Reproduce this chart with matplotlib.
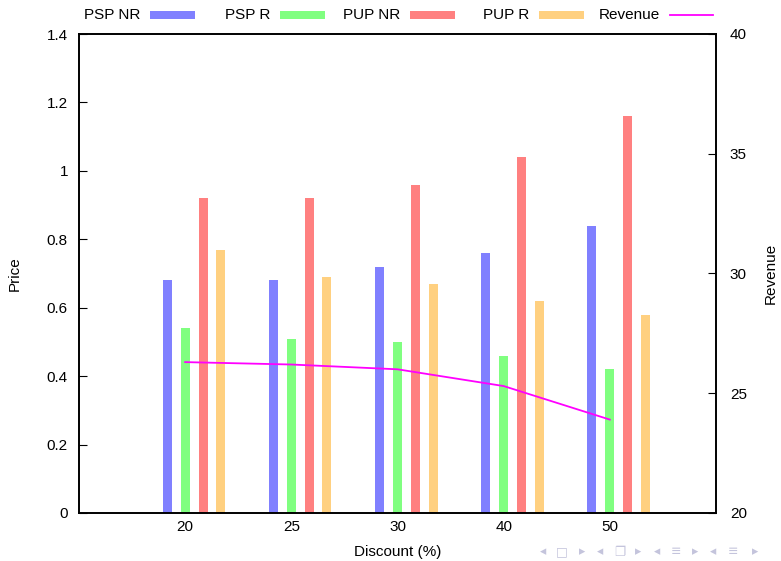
import matplotlib
matplotlib.use("Agg")
import matplotlib.pyplot as plt
from matplotlib.patches import Rectangle
from matplotlib.lines import Line2D
import numpy as np

plt.rcParams['font.family'] = ['Liberation Sans', 'DejaVu Sans']

categories = ["20", "25", "30", "40", "50"]
psp_nr = [0.68, 0.68, 0.72, 0.76, 0.84]
psp_r = [0.54, 0.51, 0.50, 0.46, 0.42]
pup_nr = [0.92, 0.92, 0.96, 1.04, 1.16]
pup_r = [0.77, 0.69, 0.67, 0.62, 0.58]
revenue = [26.3, 26.2, 26.0, 25.3, 23.9]

series = [("PSP NR", psp_nr, "#8080ff", -0.17),
          ("PSP R", psp_r, "#80ff80", 0.0),
          ("PUP NR", pup_nr, "#ff8080", 0.17),
          ("PUP R", pup_r, "#ffd080", 0.335)]

W, H = 781, 561
fig = plt.figure(figsize=(W/100, H/100), dpi=100)
ax = fig.add_axes([79/W, 1-513/H, (716-79)/W, (513-34)/H])
x = np.arange(1, len(categories)+1)

for name, vals, col, off in series:
    ax.bar(x + off, vals, width=0.085, color=col, label=name, linewidth=0)

ax.set_xlim(0, 6)
ax.set_ylim(0, 1.4)
ax.set_xticks(x)
ax.set_xticklabels(categories)
ax.set_yticks(np.arange(0, 1.41, 0.2))
ax.set_yticklabels(["0", "0.2", "0.4", "0.6", "0.8", "1", "1.2", "1.4"])
ax.tick_params(axis='x', length=0, labelsize=11, pad=5)
ax.tick_params(axis='y', direction='in', length=6, labelsize=11, pad=8)
ax.set_xlabel("Discount (%)", fontsize=11, labelpad=8)
ax.set_ylabel("Price", fontsize=11, labelpad=18)

ax2 = ax.twinx()
ax2.plot(x, revenue, color="#ff00ff", linewidth=1.3, label="Revenue")
ax2.set_ylim(20, 40)
ax2.set_yticks([20, 25, 30, 35, 40])
ax2.tick_params(axis='y', direction='in', length=6, labelsize=11, pad=10)
ax2.set_ylabel("Revenue", fontsize=11, labelpad=12)

for a in (ax, ax2):
    for s in a.spines.values():
        s.set_linewidth(1.2)

# gnuplot-style key: right-justified text followed by sample, fixed slots
names = [s[0] for s in series] + ["Revenue"]
colors = [s[2] for s in series] + ["#ff00ff"]
slot_x = [150, 280, 410, 539, 670]
ky = 15
for i, (nm, col) in enumerate(zip(names, colors)):
    sx = slot_x[i]
    fig.text((sx - 10)/W, 1-ky/H, nm, ha='right', va='center', fontsize=11)
    if i < 4:
        fig.patches.append(Rectangle((sx/W, 1-(ky+4)/H), 45/W, 8/H,
                                     transform=fig.transFigure, color=col, linewidth=0))
    else:
        fig.lines.append(Line2D([sx/W, (sx+43)/W], [1-ky/H, 1-ky/H],
                                transform=fig.transFigure, color=col, linewidth=1.3))

# beamer navigation symbols
nav = ["◂", "□", "▸", "◂", "❐", "▸", "◂", "≡", "▸", "◂", "≡", "▸"]
nav_x = [543, 562, 582, 600, 620, 638, 657, 676, 695, 713, 733, 755]
for s, nx in zip(nav, nav_x):
    fig.text(nx/W, 1-552/H, s, fontsize=9, color="#c4c4dc", ha='center', va='center',
             family=['DejaVu Sans', 'Noto Sans', 'Noto Sans CJK SC'])

fig.savefig("out.png", dpi=100)
